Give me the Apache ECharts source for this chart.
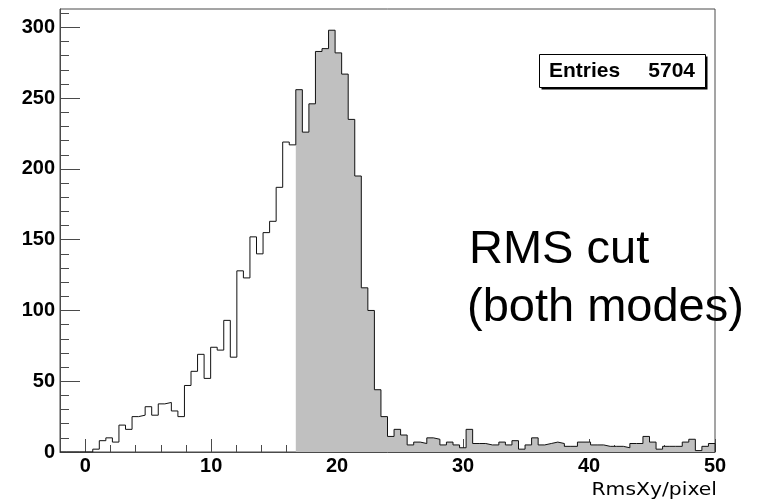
<!DOCTYPE html>
<html>
<head>
<meta charset="utf-8">
<script src="https://cdn.jsdelivr.net/npm/echarts@6/dist/echarts.min.js"></script>
<style>
  html, body { margin: 0; padding: 0; background: #ffffff; }
  #chart { width: 761px; height: 500px; }
</style>
</head>
<body>
<div id="chart"></div>
<script>
// Histogram binning: 100 bins over [-2, 50]
const X_MIN = -2;
const X_MAX = 50;
const BIN_COUNT = 100;
const Y_MAX = 313;

// Bin contents, RmsXy in pixels
const counts = [
  0, 0, 0, 0, 0, 2, 8, 10, 7, 19,
  16, 25, 26, 32, 26, 34, 35, 29, 25, 47,
  57, 69, 52, 74, 72, 93, 67, 128, 123, 152,
  140, 155, 163, 187, 219, 217, 256, 226, 246, 283,
  285, 298, 282, 267, 235, 195, 116, 100, 44, 25,
  11, 16, 12, 5, 7, 6, 10, 9, 5, 7,
  5, 3, 16, 6, 6, 5, 5, 7, 5, 8,
  2, 5, 10, 5, 6, 7, 6, 4, 4, 7,
  7, 5, 5, 4, 4, 4, 3, 6, 6, 11,
  7, 2, 4, 4, 4, 7, 9, 1, 4, 6
];

// First bin that passes the RMS cut (shaded region)
const CUT_BIN = 36;

const entriesLabel = 'Entries';
const entriesValue = '5704';
const cutLines = ['RMS cut', '(both modes)'];
const xTitle = 'RmsXy/pixel';

const xMajorTicks = [0, 10, 20, 30, 40, 50];
const xMinorTicks = [2, 4, 6, 8, 12, 14, 16, 18, 22, 24, 26, 28, 32, 34, 36, 38, 42, 44, 46, 48];
const yMajorTicks = [0, 50, 100, 150, 200, 250, 300];
const yMinorTicks = [10, 20, 30, 40, 60, 70, 80, 90, 110, 120, 130, 140, 160, 170, 180, 190,
                     210, 220, 230, 240, 260, 270, 280, 290, 310];

const binWidth = (X_MAX - X_MIN) / BIN_COUNT;
const edge = k => X_MIN + k * binWidth;

// Step outline of the whole histogram
const outline = counts.map((c, k) => [edge(k), c]);
outline.push([X_MAX, counts[BIN_COUNT - 1]]);
outline.push([X_MAX, 0]);

// Shaded part: bins at and above the cut
const shaded = [];
for (let k = CUT_BIN; k < BIN_COUNT; k++) shaded.push([edge(k), counts[k]]);
shaded.push([X_MAX, counts[BIN_COUNT - 1]]);

const FRAME = '#4a4a4a';
const labelFont = { fontFamily: 'Liberation Sans', fontWeight: 'bold', fontSize: 20, color: '#000' };

const chart = echarts.init(document.getElementById('chart'), null, { renderer: 'canvas' });

chart.setOption({
  animation: false,
  backgroundColor: '#ffffff',
  grid: {
    left: 60, right: 46, top: 9, bottom: 48,
    show: true, borderColor: FRAME, borderWidth: 1, backgroundColor: '#ffffff'
  },
  xAxis: [
    {
      type: 'value', min: X_MIN, max: X_MAX, position: 'bottom',
      axisLine: { show: true, onZero: false, lineStyle: { color: FRAME, width: 1 } },
      axisTick: { show: true, inside: true, length: 13, customValues: xMajorTicks, lineStyle: { color: FRAME } },
      axisLabel: { show: true, customValues: xMajorTicks, margin: 4, ...labelFont },
      splitLine: { show: false }
    },
    {
      type: 'value', min: X_MIN, max: X_MAX, position: 'bottom',
      axisLine: { show: false, onZero: false },
      axisTick: { show: true, inside: true, length: 7, customValues: xMinorTicks, lineStyle: { color: FRAME } },
      axisLabel: { show: false },
      splitLine: { show: false }
    }
  ],
  yAxis: [
    {
      type: 'value', min: 0, max: Y_MAX, position: 'left',
      axisLine: { show: true, onZero: false, lineStyle: { color: FRAME, width: 1 } },
      axisTick: { show: true, inside: true, length: 20, customValues: yMajorTicks, lineStyle: { color: FRAME } },
      axisLabel: { show: true, customValues: yMajorTicks, margin: 5, ...labelFont },
      splitLine: { show: false }
    },
    {
      type: 'value', min: 0, max: Y_MAX, position: 'left',
      axisLine: { show: false, onZero: false },
      axisTick: { show: true, inside: true, length: 9, customValues: yMinorTicks, lineStyle: { color: FRAME } },
      axisLabel: { show: false },
      splitLine: { show: false }
    }
  ],
  series: [
    {
      name: 'cut',
      type: 'line',
      xAxisIndex: 0, yAxisIndex: 0,
      step: 'end',
      data: shaded,
      showSymbol: false,
      lineStyle: { width: 0, opacity: 0 },
      areaStyle: { color: '#c0c0c0', opacity: 1 },
      silent: true,
      z: 2
    },
    {
      name: 'RmsXy',
      type: 'line',
      xAxisIndex: 0, yAxisIndex: 0,
      step: 'end',
      data: outline,
      showSymbol: false,
      lineStyle: { color: '#111111', width: 1 },
      silent: true,
      z: 3
    }
  ],
  graphic: [
    // statistics box with drop shadow
    { type: 'rect', shape: { x: 541.5, y: 56.5, width: 166, height: 33 }, style: { fill: '#000' }, z: 10 },
    { type: 'rect', shape: { x: 539.5, y: 54.5, width: 166, height: 33 },
      style: { fill: '#fff', stroke: '#000', lineWidth: 1 }, z: 11 },
    { type: 'text', x: 549, y: 71, z: 12,
      style: { text: entriesLabel, font: 'bold 21px "Liberation Sans"', fill: '#000',
               textAlign: 'left', textVerticalAlign: 'middle' } },
    { type: 'text', x: 695, y: 71, z: 12,
      style: { text: entriesValue, font: 'bold 21px "Liberation Sans"', fill: '#000',
               textAlign: 'right', textVerticalAlign: 'middle' } },
    // annotation
    { type: 'text', x: 469, y: 250, z: 12,
      style: { text: cutLines[0], font: '47px "Liberation Sans"', fill: '#000',
               textAlign: 'left', textVerticalAlign: 'middle' } },
    { type: 'text', x: 467, y: 308, z: 12,
      style: { text: cutLines[1], font: '47px "Liberation Sans"', fill: '#000',
               textAlign: 'left', textVerticalAlign: 'middle' } },
    // x axis title, widened to the spaced-out look of the axis font
    { type: 'text', x: 717, y: 490, scaleX: 1.1, z: 12,
      style: { text: xTitle, font: '18.5px "DejaVu Sans"', fill: '#000',
               textAlign: 'right', textVerticalAlign: 'middle' } }
  ]
});
</script>
</body>
</html>
